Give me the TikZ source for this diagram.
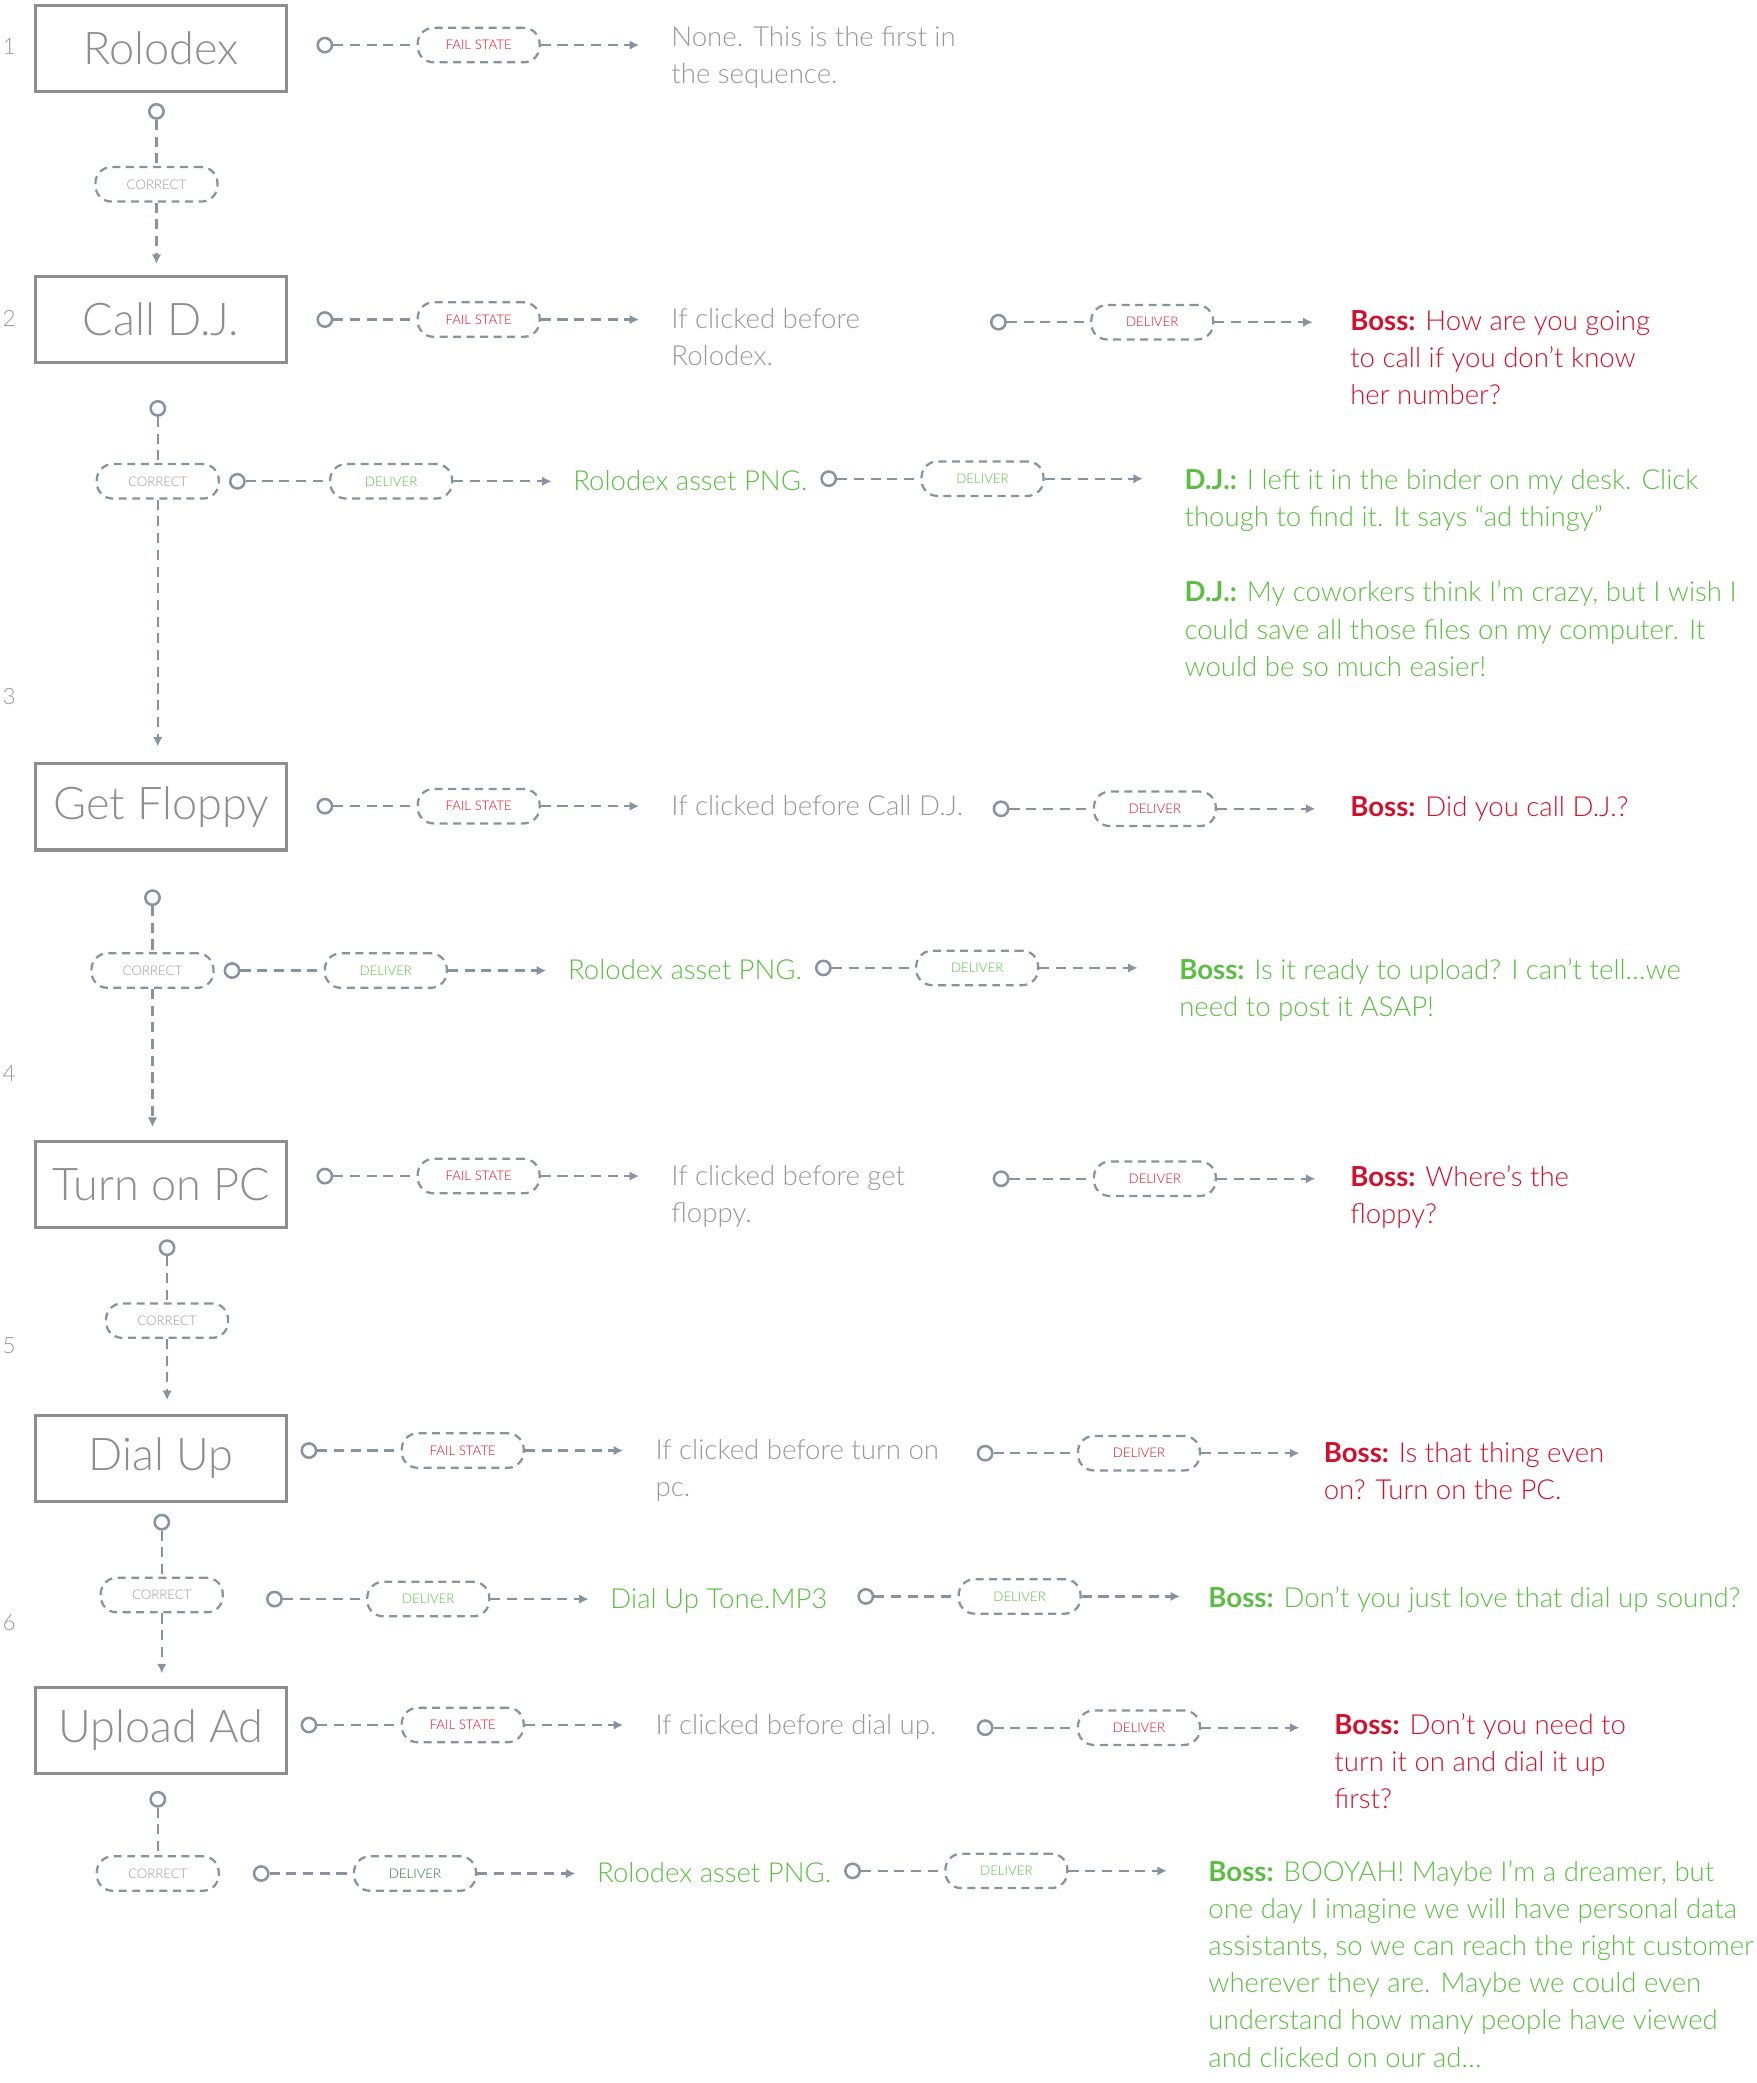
\documentclass[tikz,border=0pt]{standalone}
\usepackage{fontspec}
\setmainfont{Lato}[UprightFont={* Light},BoldFont={* Bold}]
\usetikzlibrary{arrows.meta}
\definecolor{linegrey}{HTML}{8793A0}
\definecolor{boxgrey}{HTML}{8E8E8E}
\definecolor{textgrey}{HTML}{989898}
\definecolor{bossred}{HTML}{D0102C}
\definecolor{djgreen}{HTML}{5CBD43}
\definecolor{darkgreen}{HTML}{24704E}
\begin{document}
\begin{tikzpicture}[x=0.5pt,y=-0.5pt]
\tikzset{
  task/.style={draw=boxgrey,line width=1.2pt,minimum width=94.5pt,minimum height=32.5pt,
    text=boxgrey,font=\fontsize{17}{20}\selectfont},
  pill/.style={draw=linegrey,dash pattern=on 3pt off 2.1pt,line width=0.85pt,rounded corners=6pt,
    minimum width=46pt,minimum height=13pt,inner sep=0pt,font=\fontsize{5}{6}\selectfont},
  dot/.style={circle,draw=linegrey,line width=0.95pt,minimum size=5.4pt,inner sep=0pt},
  link/.style={draw=linegrey,line width=0.85pt,dash pattern=on 3.8pt off 2.5pt},
  tip/.style={-{Latex[length=3.6pt,width=3.6pt]}},
  say/.style={anchor=base west,inner sep=0pt,align=left,font=\fontsize{10.4}{14}\selectfont},
  num/.style={text=textgrey,font=\fontsize{8.5}{10}\selectfont}
}
\useasboundingbox (0,0) rectangle (1325,1571);

% tasks
\foreach \n/\y/\t in {rolodex/36.5/Rolodex, calldj/241/Call D.J., floppy/608.5/Get Floppy,
    pc/893.5/Turn on PC, dialup/1100/Dial Up, upload/1305/Upload Ad}
  \node[task] (\n) at (121.5,\y) {\t};
\foreach \k/\y in {1/35,2/240,3/525,4/810,5/1015,6/1224}
  \node[num] (n\k) at (7,\y) {\k};

% correct
\foreach \n/\x/\y/\e in {c1/118/84/199, c2/119/308/563, c3/115/677/850,
    c4/126/941/1056, c5/122/1148/1262}{
  \node[dot] (o\n) at (\x,\y) {};
  \node[pill,text=textgrey] (p\n) at (\x,\y+55) {CORRECT};
  \coordinate (e\n) at (\x,\e);
  \draw[link] (o\n) -- (p\n);
  \draw[link,tip] (p\n) -- (e\n);
}
\node[dot] (oc6) at (119,1357) {};
\node[pill,text=textgrey] (pc6) at (119,1413) {CORRECT};
\draw[link] (oc6) -- (pc6);

% fail state and deliver
\foreach \n/\x/\y/\l/\c in {f1/245/34/FAIL STATE/bossred, f2/245/241/FAIL STATE/bossred,
    f3/245/608/FAIL STATE/bossred, f4/245/887/FAIL STATE/bossred,
    f5/233/1094/FAIL STATE/bossred, f6/233/1301/FAIL STATE/bossred,
    d2/753/243/DELIVER/bossred, d3/755/610/DELIVER/bossred, d4/755/889/DELIVER/bossred,
    d5/743/1096/DELIVER/bossred, d6/743/1303/DELIVER/bossred,
    g2/179/363/DELIVER/djgreen, h2/625/361/DELIVER/djgreen,
    g3/175/732/DELIVER/djgreen, h3/621/730/DELIVER/djgreen,
    g5/207/1206/DELIVER/djgreen, h5/653/1204/DELIVER/djgreen,
    g6/197/1413/DELIVER/darkgreen, h6/643/1411/DELIVER/djgreen}{
  \node[dot] (o\n) at (\x,\y) {};
  \node[pill,text=\c] (p\n) at (\x+116,\y) {\l};
  \coordinate (e\n) at (\x+237,\y);
  \draw[link] (o\n) -- (p\n);
  \draw[link,tip] (p\n) -- (e\n);
}

% outcomes (y is the baseline of the last line)
\node[say,text=textgrey] (tf1) at (506,63) {None. This is the first in\\the sequence.};
\node[say,text=textgrey] (tf2) at (506,276) {If clicked before\\Rolodex.};
\node[say,text=textgrey] (tf3) at (506,615) {If clicked before Call D.J.};
\node[say,text=textgrey] (tf4) at (506,922) {If clicked before get\\floppy.};
\node[say,text=textgrey] (tf5) at (494,1129) {If clicked before turn on\\pc.};
\node[say,text=textgrey] (tf6) at (494,1308) {If clicked before dial up.};

\node[say,text=bossred] (td2) at (1018,305) {\textbf{Boss:} How are you going\\to call if you don’t know\\her number?};
\node[say,text=bossred] (td3) at (1018,616) {\textbf{Boss:} Did you call D.J.?};
\node[say,text=bossred] (td4) at (1018,923) {\textbf{Boss:} Where’s the\\floppy?};
\node[say,text=bossred] (td5) at (998,1131) {\textbf{Boss:} Is that thing even\\on? Turn on the PC.};
\node[say,text=bossred] (td6) at (1006,1364) {\textbf{Boss:} Don’t you need to\\turn it on and dial it up\\first?};

\node[say,text=djgreen] (tg2) at (432,370) {Rolodex asset PNG.};
\node[say,text=djgreen] (tg3) at (428,739) {Rolodex asset PNG.};
\node[say,text=djgreen] (tg5) at (460,1213) {Dial Up Tone.MP3};
\node[say,text=djgreen] (tg6) at (450,1420) {Rolodex asset PNG.};

\node[say,text=djgreen] (th2) at (893,397) {\textbf{D.J.:} I left it in the binder on my desk. Click\\though to find it. It says “ad thingy”};
\node[say,text=djgreen] (tj2) at (893,510) {\textbf{D.J.:} My coworkers think I’m crazy, but I wish I\\could save all those files on my computer. It\\would be so much easier!};
\node[say,text=djgreen] (th3) at (889,767) {\textbf{Boss:} Is it ready to upload? I can’t tell…we\\need to post it ASAP!};
\node[say,text=djgreen] (th5) at (911,1212) {\textbf{Boss:} Don’t you just love that dial up sound?};
\node[say,text=djgreen] (th6) at (911,1559) {\textbf{Boss:} BOOYAH! Maybe I’m a dreamer, but\\one day I imagine we will have personal data\\assistants, so we can reach the right customer\\wherever they are. Maybe we could even\\understand how many people have viewed\\and clicked on our ad…};
\end{tikzpicture}
\end{document}
